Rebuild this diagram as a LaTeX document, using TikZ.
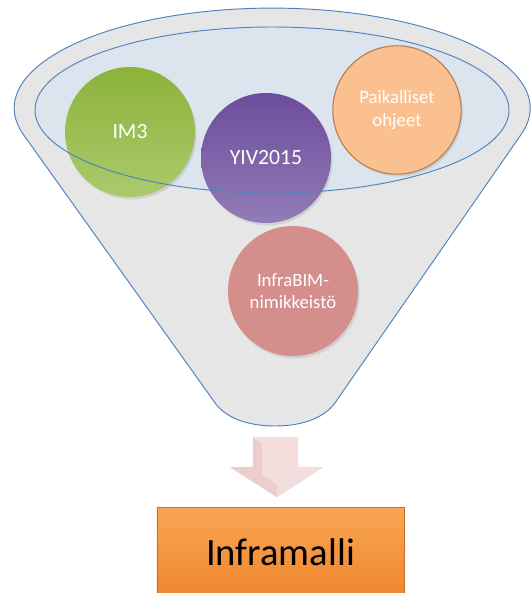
\documentclass[tikz,border=0pt]{standalone}
\usepackage{fontspec}
\setmainfont{Carlito}
\usepackage{tikz}
\usetikzlibrary{shadows}
\definecolor{rim}{HTML}{4F81BD}
\definecolor{funnelgray}{HTML}{E6E6E6}
\definecolor{bowl}{HTML}{DCE4EE}
\definecolor{imgreen}{HTML}{8BB23A}
\definecolor{imgreenlt}{HTML}{ABCA6C}
\definecolor{yivpurple}{HTML}{6C4C9C}
\definecolor{yivpurplelt}{HTML}{927CB6}
\definecolor{peach}{HTML}{FAC08F}
\definecolor{peachdk}{HTML}{B98256}
\definecolor{rose}{HTML}{D48E8C}
\definecolor{arrowpink}{HTML}{F4DEDD}
\definecolor{arrowside}{HTML}{EBCDCC}
\definecolor{boxtop}{HTML}{FAA654}
\definecolor{boxbot}{HTML}{EC8228}
\tikzset{
  edge/.style={draw=rim, line width=0.8pt, line join=round},
  ball/.style={circle, minimum size=3.9cm, inner sep=0pt, align=center, text=white,
    drop shadow={opacity=0.2, shadow xshift=0.5mm, shadow yshift=-0.7mm}},
  big/.style={font=\fontsize{18.5}{22}\selectfont},
  small/.style={font=\fontsize{16}{19}\selectfont},
  outbox/.style={draw=boxbot!85!black, top color=boxtop, bottom color=boxbot,
    minimum width=7.41cm, minimum height=3cm, text depth=0.3cm,
    font=\fontsize{33}{38}\selectfont},
}

\begin{document}
\begin{tikzpicture}[x=0.03cm,y=-0.03cm]
  \clip (0,0) rectangle (531,593);
  % funnel body
  \filldraw[fill=funnelgray, edge] (23,134)
    arc[start angle=165, end angle=375, x radius=258, y radius=100]
    -- (337,400) .. controls (326,418) and (302,426) .. (275,426)
    .. controls (248,426) and (224,418) .. (213,400) -- cycle;
  \fill[bowl] (272,110) ellipse[x radius=237, y radius=83];
  % sources
  \node[ball, big, top color=imgreen, bottom color=imgreenlt] (im3) at (130,132) {IM3};
  \node[ball, big, top color=yivpurple, bottom color=yivpurplelt] (yiv) at (266,158) {YIV2015};
  \node[ball, small, minimum size=3.85cm, fill=peach, draw=peachdk, line width=1pt] (paik) at (397,110) {Paikalliset\\ohjeet};
  \node[ball, small, fill=rose] (nimik) at (293,291) {InfraBIM-\\nimikkeistö};
  \draw[edge] (272,110) ellipse[x radius=237, y radius=83];
  % result
  \filldraw[fill=arrowpink, draw=black!12] (253,437) -- (298,437) -- (298,467) -- (323,467)
    -- (277,497) -- (230,467) -- (253,467) -- cycle;
  \fill[arrowside] (253,437) -- (262,444) -- (262,474) -- (277,485) -- (277,497)
    -- (230,467) -- (253,467) -- cycle;
  \node[outbox] (infra) at (280.5,557) {Inframalli};
\end{tikzpicture}
\end{document}
